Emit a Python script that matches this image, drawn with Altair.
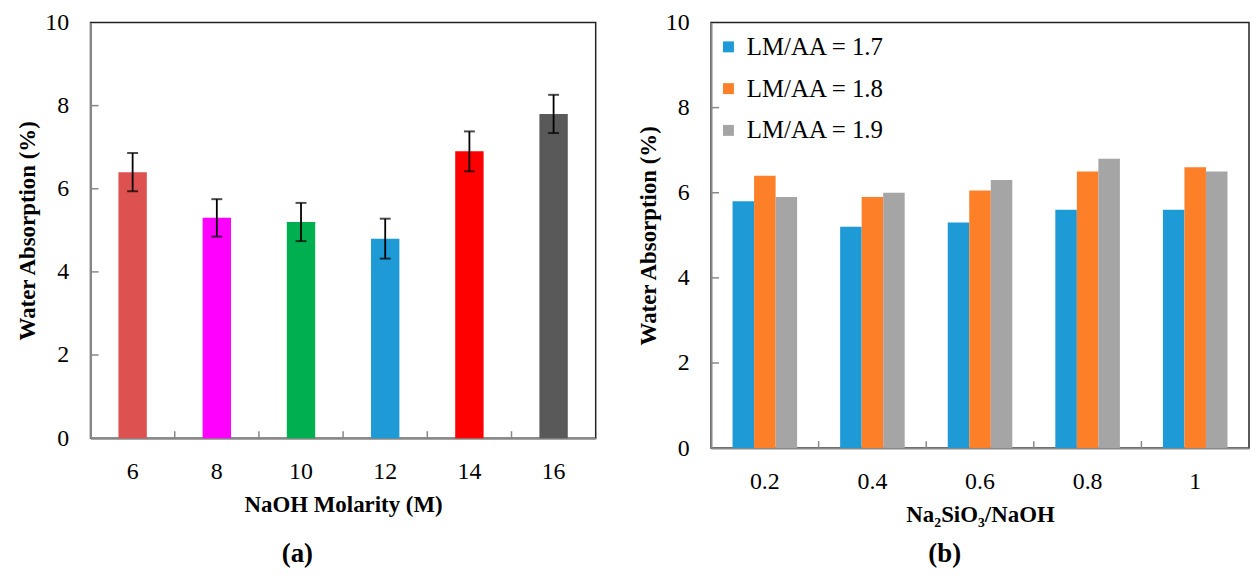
import altair as alt
import pandas as pd

# ---- panel (a) data ----
molarity = ["6", "8", "10", "12", "14", "16"]
absorb_a = [6.4, 5.3, 5.2, 4.8, 6.9, 7.8]
err_a = [0.46, 0.45, 0.46, 0.48, 0.48, 0.46]
colors_a = ["#DD5151", "#FF00FF", "#00B050", "#1E9BD7", "#FF0000", "#595959"]

# ---- panel (b) data ----
ratios = ["0.2", "0.4", "0.6", "0.8", "1"]
series = ["LM/AA = 1.7", "LM/AA = 1.8", "LM/AA = 1.9"]
vals_17 = [5.8, 5.2, 5.3, 5.6, 5.6]
vals_18 = [6.4, 5.9, 6.05, 6.5, 6.6]
vals_19 = [5.9, 6.0, 6.3, 6.8, 6.5]
colors_b = ["#1E9BD7", "#FD7F28", "#A5A5A5"]

yticks = [0, 2, 4, 6, 8, 10]
panel_labels = ["(a)", "(b)"]

FONT = "Liberation Serif"
YTITLE = "Water Absorption (%)"
GRAY = "#888888"

WA, HA = 508, 418
WB, HB = 541, 428
SPACING = 40

df_a = pd.DataFrame({
    "M": molarity,
    "WA": absorb_a,
    "lo": [v - e for v, e in zip(absorb_a, err_a)],
    "hi": [v + e for v, e in zip(absorb_a, err_a)],
    "c": colors_a,
})

ysc = alt.Scale(domain=[0, 10], nice=False)
yax = alt.Axis(values=yticks, title=YTITLE)

xsc_a = alt.Scale(domain=molarity, paddingInner=0, paddingOuter=0)
xax_a = alt.Axis(title="NaOH Molarity (M)", labelAngle=0)

bars_a = alt.Chart(df_a).mark_bar(width=alt.RelativeBandSize(0.337)).encode(
    x=alt.X("M:N", scale=xsc_a, axis=xax_a, title="NaOH Molarity (M)"),
    y=alt.Y("WA:Q", scale=ysc, axis=yax, title=YTITLE),
    fill=alt.Fill("c:N", scale=None),
)
err_rule = alt.Chart(df_a).mark_rule(color="black", strokeWidth=1.8).encode(
    x=alt.X("M:N", scale=xsc_a, title="NaOH Molarity (M)"),
    y=alt.Y("lo:Q", scale=ysc, title=YTITLE),
    y2="hi:Q",
)
cap_lo = alt.Chart(df_a).mark_tick(color="black", size=11, thickness=2).encode(
    x=alt.X("M:N", scale=xsc_a, title="NaOH Molarity (M)"),
    y=alt.Y("lo:Q", scale=ysc, title=YTITLE),
)
cap_hi = alt.Chart(df_a).mark_tick(color="black", size=11, thickness=2).encode(
    x=alt.X("M:N", scale=xsc_a, title="NaOH Molarity (M)"),
    y=alt.Y("hi:Q", scale=ysc, title=YTITLE),
)
ytick_a = alt.Chart(pd.DataFrame({"t": yticks[1:-1]})).mark_rule(color=GRAY, strokeWidth=1.5).encode(
    y=alt.Y("t:Q", scale=ysc, title=YTITLE), x=alt.value(0), x2=alt.value(8)
)
xtick_a = alt.Chart(pd.DataFrame({"M": molarity[1:]})).mark_rule(color=GRAY, strokeWidth=1.5).encode(
    x=alt.X("M:N", scale=xsc_a, bandPosition=0, title="NaOH Molarity (M)"),
    y=alt.value(HA), y2=alt.value(HA - 7),
)
lab_a = alt.Chart(pd.DataFrame({"t": [panel_labels[0]]})).mark_text(
    font=FONT, fontSize=27, fontWeight="bold", color="black", baseline="middle", align="center"
).encode(text="t:N", x=alt.value(208), y=alt.value(535))

left = alt.layer(bars_a, err_rule, cap_lo, cap_hi, ytick_a, xtick_a, lab_a).properties(width=WA, height=HA)

# ---- panel (b) ----
rows = []
for vals, s in zip([vals_17, vals_18, vals_19], series):
    for r, v in zip(ratios, vals):
        rows.append({"r": r, "s": s, "v": v})
df_b = pd.DataFrame(rows)

xsc_b = alt.Scale(domain=ratios, paddingInner=0, paddingOuter=0)
XTB = "Na\u2082SiO\u2083/NaOH"

bars_b = alt.Chart(df_b).mark_bar().encode(
    x=alt.X("r:N", scale=xsc_b, axis=alt.Axis(title=XTB, labelAngle=0), title=XTB),
    xOffset=alt.XOffset("s:N", scale=alt.Scale(domain=series, paddingInner=0, paddingOuter=1)),
    y=alt.Y("v:Q", scale=ysc, axis=yax, title=YTITLE),
    color=alt.Color(
        "s:N",
        scale=alt.Scale(domain=series, range=colors_b),
        legend=alt.Legend(
            title=None, orient="none", legendX=629, legendY=12, direction="vertical",
            symbolType="square", symbolSize=121, symbolStrokeWidth=0,
            labelFont=FONT, labelFontSize=25, labelColor="black", labelOffset=6,
            labelLimit=300, rowPadding=16, padding=0,
        ),
    ),
)
ytick_b = alt.Chart(pd.DataFrame({"t": yticks[1:-1]})).mark_rule(color=GRAY, strokeWidth=1.5).encode(
    y=alt.Y("t:Q", scale=ysc, title=YTITLE), x=alt.value(0), x2=alt.value(8)
)
xtick_b = alt.Chart(pd.DataFrame({"r": ratios[1:]})).mark_rule(color=GRAY, strokeWidth=1.5).encode(
    x=alt.X("r:N", scale=xsc_b, bandPosition=0, title=XTB),
    y=alt.value(HB), y2=alt.value(HB - 7),
)
lab_b = alt.Chart(pd.DataFrame({"t": [panel_labels[1]]})).mark_text(
    font=FONT, fontSize=27, fontWeight="bold", color="black", baseline="middle", align="center"
).encode(text="t:N", x=alt.value(235), y=alt.value(535))

right = alt.layer(bars_b, ytick_b, xtick_b, lab_b).properties(width=WB, height=HB)

chart = alt.hconcat(left, right, spacing=SPACING).properties(
    padding={"left": 8, "top": 0, "right": 0, "bottom": 0}
).configure_view(
    stroke="#222222", strokeWidth=1.5
).configure_axis(
    labelFont=FONT, labelFontSize=24, labelColor="black",
    titleFont=FONT, titleFontSize=23, titleFontWeight="bold", titleColor="black",
    domainColor=GRAY, domainWidth=2, ticks=False, tickSize=0, grid=False,
).configure_axisY(
    labelPadding=22, titlePadding=5,
).configure_axisX(
    labelPadding=22, titlePadding=10,
)

chart.save("out.html", embed_options={"renderer": "svg", "actions": False})
